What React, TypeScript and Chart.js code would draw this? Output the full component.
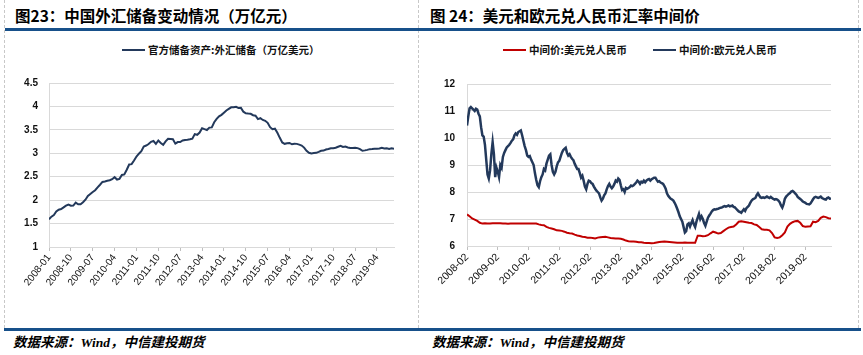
import React, { useEffect, useRef } from 'react';
import { Chart, registerables } from 'chart.js';

Chart.register(...registerables);

// ---------------- Data: Figure 23 (monthly FX reserves, trillion USD) ----------------
const RESERVE_START_YEAR = 2008;
const RESERVE_START_MONTH = 1;
const reserveValues: number[] = [
  1.590, 1.647, 1.682, 1.757, 1.797, 1.809, 1.845, 1.884, 1.906, 1.880, 1.885, 1.946,
  1.913, 1.912, 1.954, 2.009, 2.089, 2.132, 2.175, 2.211, 2.273, 2.328, 2.388, 2.399,
  2.415, 2.425, 2.447, 2.490, 2.440, 2.454, 2.538, 2.548, 2.648, 2.760, 2.768, 2.847,
  2.932, 2.991, 3.045, 3.146, 3.166, 3.197, 3.245, 3.262, 3.202, 3.274, 3.221, 3.181,
  3.254, 3.309, 3.305, 3.299, 3.206, 3.240, 3.240, 3.273, 3.285, 3.287, 3.298, 3.312,
  3.410, 3.395, 3.443, 3.535, 3.515, 3.497, 3.548, 3.553, 3.663, 3.736, 3.790, 3.821,
  3.867, 3.914, 3.948, 3.981, 3.984, 3.993, 3.966, 3.969, 3.888, 3.853, 3.847, 3.843,
  3.813, 3.802, 3.730, 3.748, 3.711, 3.694, 3.651, 3.557, 3.514, 3.525, 3.438, 3.330,
  3.231, 3.202, 3.213, 3.220, 3.192, 3.205, 3.201, 3.185, 3.166, 3.121, 3.052, 3.011,
  2.998, 3.005, 3.009, 3.030, 3.054, 3.057, 3.081, 3.092, 3.109, 3.109, 3.119, 3.140,
  3.161, 3.134, 3.143, 3.125, 3.111, 3.112, 3.118, 3.110, 3.087, 3.053, 3.062, 3.073,
  3.088, 3.090, 3.099, 3.095, 3.101, 3.119, 3.104, 3.107, 3.092, 3.105, 3.096,
];
const reserveTickLabels: string[] = [
  '2008-01', '2008-10', '2009-07', '2010-04', '2011-01', '2011-10', '2012-07', '2013-04',
  '2014-01', '2014-10', '2015-07', '2016-04', '2017-01', '2017-10', '2018-07', '2019-04',
];
const reserveYTicks: number[] = [1, 1.5, 2, 2.5, 3, 3.5, 4, 4.5];

// ---------------- Data: Figure 24 (central parity rates) ----------------
const FX_START_YEAR = 2008;
const FX_START_MONTH = 2;
// USD/CNY, one reading per month from 2008-02
const usdCnyMonthly: number[] = [
  7.17, 7.10, 7.02, 6.98, 6.93, 6.86, 6.83, 6.84, 6.83, 6.83, 6.84, 6.84,
  6.84, 6.84, 6.83, 6.83, 6.82, 6.83, 6.83, 6.83, 6.83, 6.83, 6.83, 6.83,
  6.83, 6.83, 6.83, 6.83, 6.80, 6.78, 6.77, 6.71, 6.67, 6.65, 6.62, 6.58,
  6.57, 6.56, 6.53, 6.49, 6.47, 6.46, 6.42, 6.39, 6.37, 6.34, 6.33, 6.31,
  6.31, 6.30, 6.28, 6.31, 6.32, 6.33, 6.34, 6.32, 6.30, 6.29, 6.28, 6.28,
  6.27, 6.24, 6.20, 6.18, 6.17, 6.17, 6.16, 6.14, 6.14, 6.12, 6.11, 6.11,
  6.10, 6.11, 6.13, 6.15, 6.16, 6.17, 6.16, 6.15, 6.14, 6.13, 6.12, 6.12,
  6.12, 6.13, 6.12, 6.12, 6.12, 6.12, 6.38, 6.38, 6.36, 6.37, 6.40, 6.47,
  6.53, 6.50, 6.46, 6.48, 6.55, 6.62, 6.68, 6.70, 6.72, 6.80, 6.90, 6.92,
  6.90, 6.88, 6.86, 6.85, 6.80, 6.78, 6.70, 6.62, 6.60, 6.60, 6.58, 6.48,
  6.32, 6.30, 6.32, 6.40, 6.50, 6.72, 6.82, 6.88, 6.92, 6.93, 6.86, 6.74,
  6.71, 6.72, 6.73, 6.90, 6.88, 6.93, 7.04, 7.09, 7.07, 7.03, 7.02,
];
// EUR/CNY, two readings per month from 2008-02
const eurCnyHalfMonthly: number[] = [
  10.46, 10.8, 11.1, 11.15, 11.1, 11.05, 11.0, 11.08, 11.05, 10.9, 10.8, 10.4, 10.1, 10.05, 9.75, 9.2, 8.65, 8.5, 8.8, 9.4, 9.85, 9.4, 8.55, 8.9,
  8.75, 8.55, 9.0, 8.9, 9.3, 9.45, 9.55, 9.65, 9.7, 9.75, 9.82, 9.9, 9.95, 10.1, 10.17, 10.12, 10.22, 10.25, 10.28, 10.1, 9.9, 9.7, 9.55, 9.35,
  9.3, 9.33, 9.2, 9.1, 9.0, 8.7, 8.45, 8.25, 8.18, 8.4, 8.55, 8.65, 8.85, 8.8, 9.05, 9.2, 9.35, 9.4, 9.0, 8.75, 8.65, 8.75, 8.95, 9.1,
  9.15, 9.3, 9.45, 9.55, 9.6, 9.64, 9.45, 9.35, 9.4, 9.3, 9.23, 9.18, 9.05, 8.95, 8.85, 8.85, 8.7, 8.53, 8.6, 8.42, 8.2, 8.1, 8.3, 8.42,
  8.4, 8.33, 8.3, 8.2, 8.12, 8.05, 8.0, 7.95, 7.8, 7.68, 7.75, 7.88, 7.95, 8.1, 8.22, 8.3, 8.2, 8.14, 8.2, 8.3, 8.42, 8.38, 8.5, 8.45,
  8.25, 8.07, 8.1, 8.0, 8.15, 8.12, 8.15, 8.18, 8.24, 8.22, 8.25, 8.3, 8.35, 8.42, 8.38, 8.3, 8.38, 8.35, 8.42, 8.36, 8.42, 8.46, 8.48, 8.42,
  8.47, 8.5, 8.53, 8.53, 8.45, 8.38, 8.4, 8.35, 8.33, 8.3, 8.22, 8.12, 7.95, 7.86, 7.8, 7.75, 7.72, 7.68, 7.6, 7.5, 7.38, 7.25, 7.1, 7.0,
  6.9, 6.7, 6.5, 6.55, 6.8, 6.84, 6.72, 6.85, 6.96, 6.8, 6.7, 6.9, 7.05, 7.19, 7.0, 7.1, 7.0, 6.85, 6.75, 6.9, 7.05, 7.13, 7.2, 7.28,
  7.33, 7.36, 7.35, 7.37, 7.38, 7.4, 7.42, 7.43, 7.46, 7.48, 7.46, 7.48, 7.5, 7.47, 7.48, 7.5, 7.45, 7.43, 7.38, 7.33, 7.28, 7.26, 7.23, 7.3,
  7.36, 7.3, 7.4, 7.45, 7.5, 7.6, 7.68, 7.73, 7.75, 7.78, 7.88, 7.95, 7.87, 7.8, 7.78, 7.8, 7.78, 7.8, 7.83, 7.8, 7.78, 7.82, 7.78, 7.74,
  7.72, 7.74, 7.72, 7.68, 7.62, 7.5, 7.42, 7.55, 7.75, 7.83, 7.88, 7.93, 7.96, 8.02, 8.04, 8.0, 7.95, 7.9, 7.82, 7.78, 7.74, 7.7, 7.65, 7.62,
  7.6, 7.56, 7.55, 7.54, 7.58, 7.65, 7.73, 7.8, 7.82, 7.8, 7.78, 7.8, 7.83, 7.78, 7.75, 7.73, 7.72, 7.78, 7.8, 7.75,
  7.76,
];
const fxTickLabels: string[] = [
  '2008-02', '2009-02', '2010-02', '2011-02', '2012-02', '2013-02',
  '2014-02', '2015-02', '2016-02', '2017-02', '2018-02', '2019-02',
];
const fxYTicks: number[] = [6, 7, 8, 9, 10, 11, 12];

// ---------------- Text ----------------
const TITLE_LEFT = '图23：中国外汇储备变动情况（万亿元）';
const TITLE_RIGHT = '图 24：美元和欧元兑人民币汇率中间价';
const SERIES_RESERVE = '官方储备资产:外汇储备（万亿美元）';
const SERIES_USD = '中间价:美元兑人民币';
const SERIES_EUR = '中间价:欧元兑人民币';
const SOURCE = '数据来源：Wind，中信建投期货';

// ---------------- Styles ----------------
const NAVY = '#23395B';
const RED = '#C00000';
const BLUE_RULE = '#17508A';
const GRID = '#D9D9D9';
const CJK = '"Noto Sans CJK SC", "Liberation Sans", sans-serif';

const monthIndexToLabel = (y0: number, m0: number, k: number) => {
  const t = y0 * 12 + (m0 - 1) + k;
  const y = Math.floor(t / 12);
  const m = (t % 12) + 1;
  return `${y}-${String(m).padStart(2, '0')}`;
};
const labelToMonthIndex = (y0: number, m0: number, label: string) => {
  const [y, m] = label.split('-').map(Number);
  return y * 12 + (m - 1) - (y0 * 12 + (m0 - 1));
};

const yTickFont = { family: '"Liberation Sans", Arial, sans-serif', size: 10, weight: 'bold' as const };

function ReserveChart() {
  const ref = useRef<HTMLCanvasElement | null>(null);
  useEffect(() => {
    if (!ref.current) return;
    const points = reserveValues.map((v, i) => ({ x: i, y: v }));
    const tickPos = reserveTickLabels.map((l) => labelToMonthIndex(RESERVE_START_YEAR, RESERVE_START_MONTH, l));
    const chart = new Chart(ref.current, {
      type: 'line',
      data: {
        datasets: [
          {
            label: SERIES_RESERVE,
            data: points,
            borderColor: NAVY,
            backgroundColor: NAVY,
            borderWidth: 2,
            pointRadius: 0,
            tension: 0,
          },
        ],
      },
      options: {
        animation: false,
        responsive: false,
        events: [],
        layout: { padding: { top: 8, left: 0, right: 24, bottom: 0 } },
        plugins: { legend: { display: false }, tooltip: { enabled: false } },
        scales: {
          x: {
            type: 'linear',
            min: 0,
            max: reserveValues.length - 1,
            afterBuildTicks: (axis: any) => {
              axis.ticks = tickPos.map((v) => ({ value: v }));
            },
            afterFit: (axis: any) => {
              axis.height = 45;
            },
            ticks: {
              autoSkip: false,
              minRotation: 52,
              maxRotation: 52,
              padding: 1,
              font: { family: '"Liberation Sans", Arial, sans-serif', size: 10 },
              color: '#111',
              callback: (v: any) => monthIndexToLabel(RESERVE_START_YEAR, RESERVE_START_MONTH, Number(v)),
            },
            grid: { drawOnChartArea: false, drawTicks: true, tickLength: 4, color: '#BFBFBF' },
            border: { color: GRID, width: 1 },
          },
          y: {
            min: 1,
            max: 4.5,
            afterBuildTicks: (axis: any) => {
              axis.ticks = reserveYTicks.map((v) => ({ value: v }));
            },
            afterFit: (axis: any) => {
              axis.width = 44;
            },
            ticks: { font: yTickFont, color: '#111', padding: 11, callback: (v: any) => String(v) },
            grid: { color: GRID, drawTicks: false, lineWidth: 1 },
            border: { color: GRID, width: 1 },
          },
        },
      },
    } as any);
    return () => chart.destroy();
  }, []);
  return <canvas ref={ref} width={413} height={226} style={{ position: 'absolute', left: 5, top: 66, width: 413, height: 226 }} />;
}

function FxChart() {
  const ref = useRef<HTMLCanvasElement | null>(null);
  useEffect(() => {
    if (!ref.current) return;
    const usdPoints = usdCnyMonthly.map((v, i) => ({ x: i, y: v }));
    const eurPoints = eurCnyHalfMonthly.map((v, i) => ({ x: i / 2, y: v }));
    const tickPos = fxTickLabels.map((l) => labelToMonthIndex(FX_START_YEAR, FX_START_MONTH, l));
    const chart = new Chart(ref.current, {
      type: 'line',
      data: {
        datasets: [
          {
            label: SERIES_USD,
            data: usdPoints,
            borderColor: RED,
            backgroundColor: RED,
            borderWidth: 2,
            pointRadius: 0,
            tension: 0,
          },
          {
            label: SERIES_EUR,
            data: eurPoints,
            borderColor: NAVY,
            backgroundColor: NAVY,
            borderWidth: 2.5,
            pointRadius: 0,
            tension: 0,
          },
        ],
      },
      options: {
        animation: false,
        responsive: false,
        events: [],
        layout: { padding: { top: 9, left: 0, right: 27, bottom: 0 } },
        plugins: { legend: { display: false }, tooltip: { enabled: false } },
        scales: {
          x: {
            type: 'linear',
            min: 0,
            max: 142,
            afterBuildTicks: (axis: any) => {
              axis.ticks = tickPos.map((v) => ({ value: v }));
            },
            afterFit: (axis: any) => {
              axis.height = 45;
            },
            ticks: {
              autoSkip: false,
              minRotation: 45,
              maxRotation: 45,
              padding: 1,
              font: { family: '"Liberation Sans", Arial, sans-serif', size: 10.5 },
              color: '#111',
              callback: (v: any) => monthIndexToLabel(FX_START_YEAR, FX_START_MONTH, Number(v)),
            },
            grid: { drawOnChartArea: false, drawTicks: true, tickLength: 4, color: '#BFBFBF' },
            border: { color: GRID, width: 1 },
          },
          y: {
            min: 6,
            max: 12,
            afterBuildTicks: (axis: any) => {
              axis.ticks = fxYTicks.map((v) => ({ value: v }));
            },
            afterFit: (axis: any) => {
              axis.width = 39;
            },
            ticks: { font: yTickFont, color: '#111', padding: 12, callback: (v: any) => String(v) },
            grid: { color: GRID, drawTicks: false, lineWidth: 1 },
            border: { color: GRID, width: 1 },
          },
        },
      },
    } as any);
    return () => chart.destroy();
  }, []);
  return <canvas ref={ref} width={430} height={225} style={{ position: 'absolute', left: 428, top: 66, width: 430, height: 225 }} />;
}

function LegendItem({ color, text, left, top }: { color: string; text: string; left: number; top: number }) {
  return (
    <div style={{ position: 'absolute', left, top, display: 'flex', alignItems: 'center', whiteSpace: 'nowrap' }}>
      <span style={{ display: 'inline-block', width: 23, height: 2, background: color, marginRight: 3 }} />
      <span style={{ fontFamily: CJK, fontWeight: 700, fontSize: 10.5, color: '#111', lineHeight: '14px' }}>{text}</span>
    </div>
  );
}

export default function App() {
  const titleStyle: React.CSSProperties = {
    position: 'absolute',
    top: 5,
    fontFamily: CJK,
    fontWeight: 700,
    fontSize: 15.5,
    lineHeight: '20px',
    color: '#000',
    whiteSpace: 'nowrap',
  };
  const sourceStyle: React.CSSProperties = {
    position: 'absolute',
    top: 334,
    fontFamily: '"Liberation Serif", "Noto Sans CJK SC", serif',
    fontStyle: 'italic',
    fontWeight: 700,
    fontSize: 13.5,
    lineHeight: '18px',
    color: '#000',
    whiteSpace: 'nowrap',
  };
  const dashed = (left: number): React.CSSProperties => ({
    position: 'absolute',
    left,
    top: 0,
    height: 328,
    width: 0,
    borderLeft: '1px dashed #C8C8C8',
  });
  return (
    <div style={{ position: 'absolute', left: 0, top: 0, width: 863, height: 355, background: '#fff', overflow: 'hidden' }}>
      <div style={dashed(4)} />
      <div style={dashed(418)} />
      <div style={dashed(858)} />
      <div style={{ ...titleStyle, left: 15 }}>{TITLE_LEFT}</div>
      <div style={{ ...titleStyle, left: 430 }}>{TITLE_RIGHT}</div>
      <div style={{ position: 'absolute', left: 5, top: 28, width: 856, height: 3, background: BLUE_RULE }} />
      <LegendItem color={NAVY} text={SERIES_RESERVE} left={122} top={43} />
      <LegendItem color={RED} text={SERIES_USD} left={503} top={43} />
      <LegendItem color={NAVY} text={SERIES_EUR} left={653} top={43} />
      <ReserveChart />
      <FxChart />
      <div style={{ position: 'absolute', left: 4, top: 328, width: 857, height: 3, background: BLUE_RULE }} />
      <div style={{ ...sourceStyle, left: 13 }}>{SOURCE}</div>
      <div style={{ ...sourceStyle, left: 432 }}>{SOURCE}</div>
    </div>
  );
}
